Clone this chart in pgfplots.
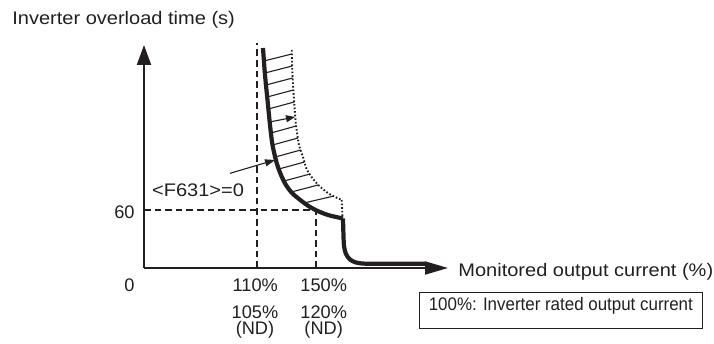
\documentclass[border=0pt]{standalone}
\usepackage{pgfplots}
\pgfplotsset{compat=1.18}
\usetikzlibrary{arrows.meta}
\usepackage{fontspec}
\setmainfont{Liberation Sans}
\newfontfamily\lab{Liberation Sans}[FakeStretch=1.1]
\newfontfamily\boxf{Liberation Sans}[FakeStretch=0.93]
\definecolor{ink}{HTML}{231F20}
\begin{document}
\fontsize{9.1bp}{11bp}\selectfont
\begin{tikzpicture}
\begin{axis}[
  scale only axis, width=152bp, height=111.5bp,
  xmin=0, xmax=304, ymin=0, ymax=223,
  enlargelimits=false,
  axis lines=left,
  axis line style={line width=1bp, ink},
  x axis line style={-{Triangle[length=11.5bp,width=6.5bp]}},
  y axis line style={-{Triangle[length=10bp,width=7bp]}},
  ticks=none, clip=false, unbounded coords=jump,
]
% bounding box of the whole figure (714 x 344 px)
\path (axis cs:-144,-76) rectangle (axis cs:570,268);

% dashed guide lines
\addplot[ink, line width=0.8bp, dash pattern=on 3.3bp off 2bp] coordinates {(113,0) (113,224.7)};
\addplot[ink, line width=0.8bp, dash pattern=on 3.3bp off 2bp] coordinates {(171.7,0) (171.7,58)};
\addplot[ink, line width=0.8bp, dash pattern=on 3.3bp off 2bp] coordinates {(0,58) (171.7,58)};

% dotted curve
\addplot[ink, line width=0.95bp, dash pattern=on 0.8bp off 1.0bp, smooth] coordinates {
(147.7,218) (148.5,193) (150,168) (152,143) (155,123) (159,111) (163,98) (172.7,84.7) (184.3,74.7) (197.7,68)};
\addplot[ink, line width=0.95bp, dash pattern=on 0.8bp off 1.0bp] coordinates {(197.7,68) (198.5,51)};

% hatch lines
\addplot[ink, line width=0.55bp] coordinates {
(120,207) (147.8,214) (nan,nan)
(120.9,195) (148.2,202) (nan,nan)
(122,183) (148.7,190) (nan,nan)
(123.2,171) (149.4,178) (nan,nan)
(124.4,159) (150.2,166) (nan,nan)
(127,135) (152.2,142) (nan,nan)
(128.5,123) (154,130) (nan,nan)
(131.3,111) (156.7,118) (nan,nan)
(134.9,99) (160.5,106) (nan,nan)
(140,87) (166.1,94) (nan,nan)
(147.3,76) (174.2,83) (nan,nan)
(160,65) (190,72)};
\addplot[ink, line width=0.55bp, -{Triangle[length=4.5bp,width=3.5bp]}] coordinates {(125.6,146) (151,151)};

% thick characteristic curve
\addplot[ink, line width=2.1bp, smooth, line join=round] coordinates {
(119,220) (121,193) (123.5,168) (126,143) (128.5,123) (132.7,105) (137,93) (142,83) (148,75) (155,69) (163,63) (171.5,58) (184,53) (199,49.5)};
\addplot[ink, line width=2.1bp, smooth, line join=round] coordinates {
(199,49.5) (199.4,35) (200,22) (202,14) (206,8.5) (212,5.5) (222,4.3) (250,4.2) (281,4.2)};

% pointer arrow
\addplot[ink, line width=0.55bp, -{Triangle[length=5bp,width=3.5bp]}] coordinates {(86,94.7) (131,108)};

% labels
\node[anchor=base west, inner sep=0, text=ink] at (axis cs:-132,243) {\lab Inverter overload time (s)};
\node[anchor=base west, inner sep=0, text=ink] at (axis cs:7.7,71.3) {\lab <F631>=0};
\node[anchor=base east, inner sep=0, text=ink] at (axis cs:-9,49.7) {60};
\node[anchor=base east, inner sep=0, text=ink] at (axis cs:-9,-23.7) {0};
\node[anchor=base, inner sep=0, text=ink] at (axis cs:111.3,-23.7) {110\%};
\node[anchor=base, inner sep=0, text=ink] at (axis cs:179.7,-23.7) {150\%};
\node[anchor=base, inner sep=0, text=ink] at (axis cs:111,-50.3) {105\%};
\node[anchor=base, inner sep=0, text=ink] at (axis cs:179.7,-50.3) {120\%};
\node[anchor=base, inner sep=0, text=ink] at (axis cs:111,-66.6) {(ND)};
\node[anchor=base, inner sep=0, text=ink] at (axis cs:179.7,-66.6) {(ND)};
\node[anchor=base west, inner sep=0, text=ink] at (axis cs:314,-8) {\lab Monitored output current (\%)};
\draw[ink, line width=0.5bp] (axis cs:275,-24) rectangle (axis cs:558,-60);
\node[anchor=base, inner sep=0, text=ink] at (axis cs:416.8,-42.7) {\boxf 100\%: Inverter rated output current};
\end{axis}
\end{tikzpicture}
\end{document}
